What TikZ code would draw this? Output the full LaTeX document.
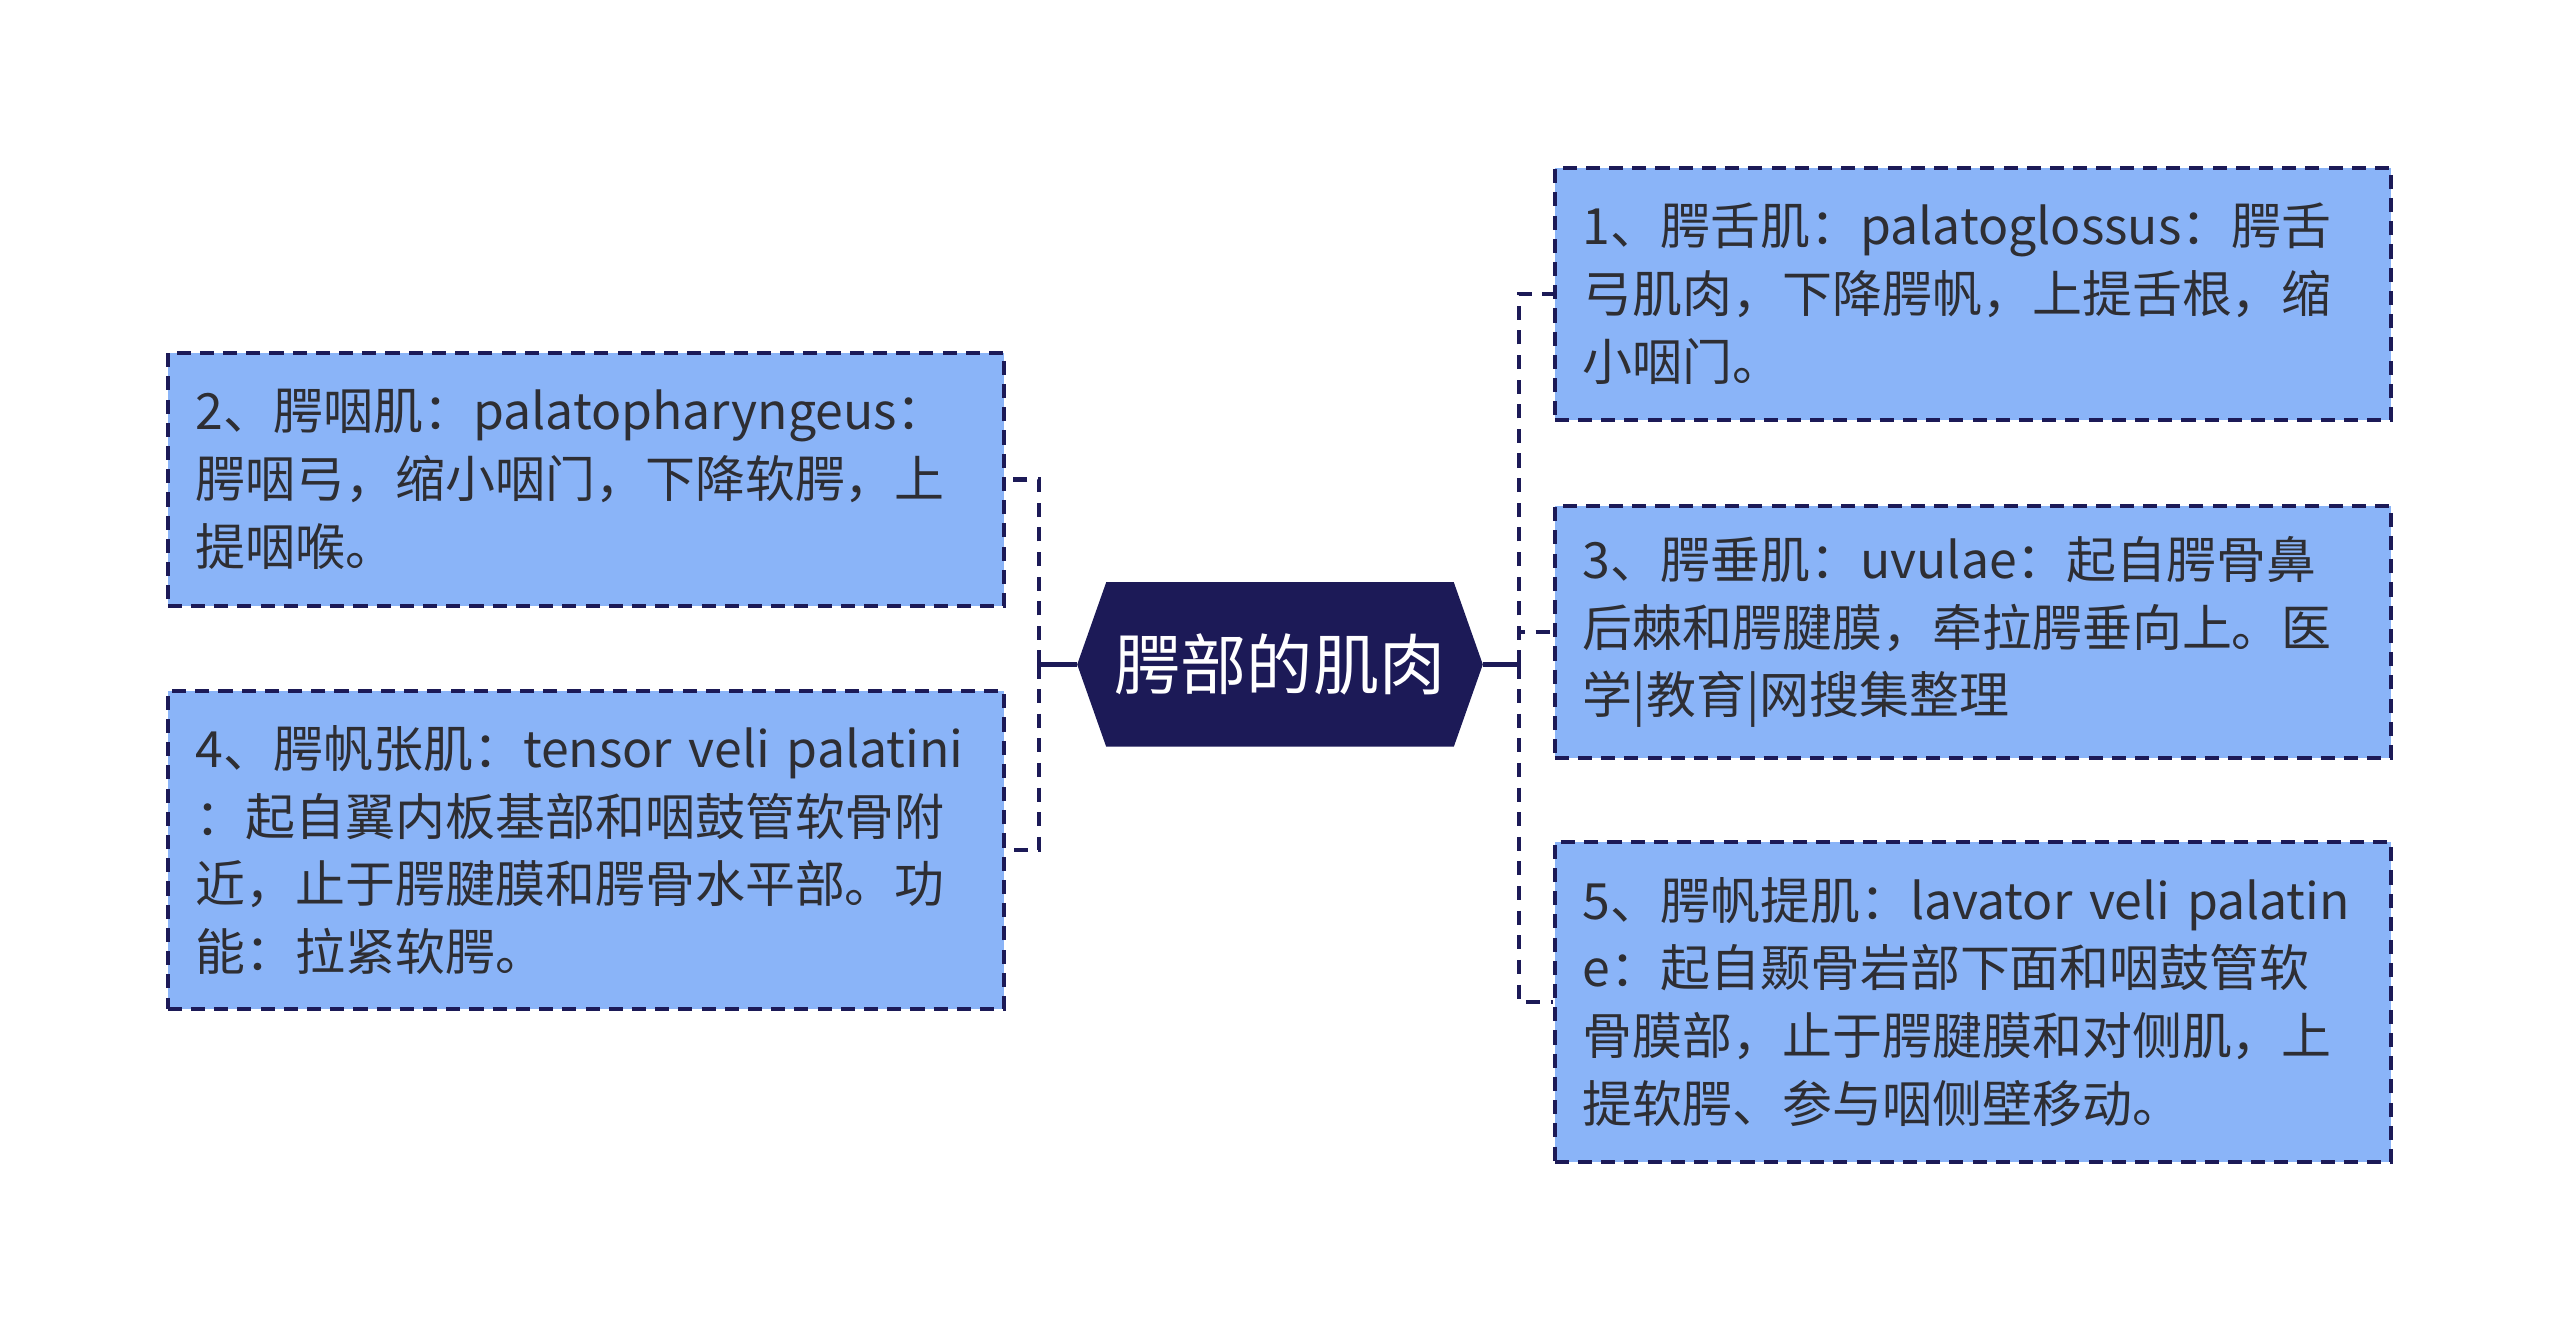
\documentclass[tikz,border=0pt]{standalone}
\usepackage{fontspec}
\newfontfamily\cjk{Noto Sans CJK SC}
\usetikzlibrary{backgrounds,calc}
\definecolor{boxfill}{HTML}{8AB4F8}
\definecolor{navy}{HTML}{1C1A57}
\definecolor{txt}{HTML}{2E2E33}
\tikzset{
  leaf/.style={draw=navy, fill=boxfill, line width=1.2pt, dash pattern=on 4pt off 2.6pt,
    text=txt, align=left, text width=7.8cm, inner xsep=0.28cm, inner ysep=0pt,
    minimum width=8.36cm, font=\cjk\fontsize{14.2pt}{19.3pt}\selectfont},
  dconn/.style={draw=navy, line width=1.3pt, dash pattern=on 4pt off 3pt},
  sconn/.style={draw=navy, line width=1.3pt},
}
\begin{document}
\begin{tikzpicture}[x=0.01cm,y=-0.01cm]
\useasboundingbox (0,0) rectangle (2560,1331);
% centre
\node[inner sep=0, minimum width=3.46cm, minimum height=1.63cm, text=white,
  font=\cjk\fontsize{18.8pt}{22pt}\selectfont] (c) at (1280,664.5) {腭部的肌肉};
\coordinate (cl) at ($(c.west)+(-29,0)$);
\coordinate (cr) at ($(c.east)+(29,0)$);
\begin{pgfonlayer}{background}
\fill[white] (0,0) rectangle (2560,1331);
\fill[navy] (c.north west) -- (c.north east) -- (cr) -- (c.south east) -- (c.south west) -- (cl) -- cycle;
\end{pgfonlayer}
% boxes
\node[leaf, minimum height=2.52cm] (b1) at (1973,294) {1、腭舌肌：palatoglossus：腭舌\\弓肌肉，下降腭帆，上提舌根，缩\\小咽门。};
\node[leaf, minimum height=2.53cm] (b2) at (586,479.5) {2、腭咽肌：palatopharyngeus：\\腭咽弓，缩小咽门，下降软腭，上\\提咽喉。};
\node[leaf, minimum height=2.52cm] (b3) at (1973,632) {3、腭垂肌：uvulae：起自腭骨鼻\\后棘和腭腱膜，牵拉腭垂向上。医\\学|教育|网搜集整理};
\node[leaf, minimum height=3.18cm] (b4) at (586,850) {4、腭帆张肌：tensor veli palatini\\：起自翼内板基部和咽鼓管软骨附\\近，止于腭腱膜和腭骨水平部。功\\能：拉紧软腭。};
\node[leaf, minimum height=3.20cm] (b5) at (1973,1002) {5、腭帆提肌：lavator veli palatin\\e：起自颞骨岩部下面和咽鼓管软\\骨膜部，止于腭腱膜和对侧肌，上\\提软腭、参与咽侧壁移动。};
% connectors left
\coordinate (lj) at ($(cl)+(-38,0)$);
\draw[sconn] (cl) -- (lj);
\draw[sconn] ($(lj)+(0,-12)$) -- ($(lj)+(0,12)$);
\draw[dconn] (lj) |- (b2.east);
\draw[dconn] (lj) |- (b4.east);
% connectors right
\coordinate (rj) at ($(cr)+(36,0)$);
\draw[sconn] (cr) -- (rj);
\draw[sconn] ($(rj)+(0,-12)$) -- ($(rj)+(0,12)$);
\draw[dconn] (rj) |- (b1.west);
\draw[dconn] (rj) |- (b3.west);
\draw[dconn] (rj) |- (b5.west);
\end{tikzpicture}
\end{document}
